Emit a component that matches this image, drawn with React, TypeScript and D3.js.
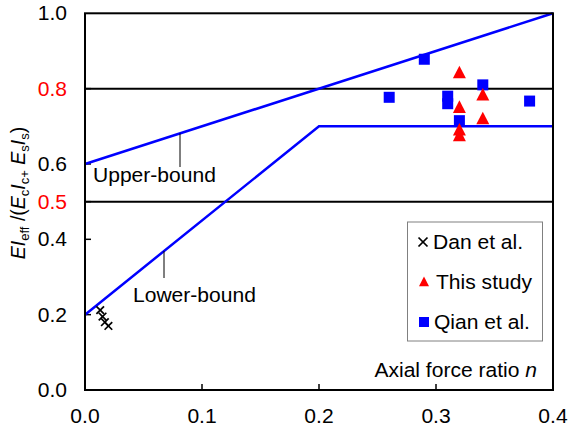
import React from "react";
import * as d3 from "d3";

// Dan et al.
const danN = [0.013, 0.015, 0.017, 0.02];
const danR = [0.212, 0.195, 0.18, 0.17];
// This study
const studyN = [0.32, 0.34, 0.32, 0.34, 0.32, 0.32];
const studyR = [0.842, 0.783, 0.75, 0.72, 0.69, 0.675];
// Qian et al.
const qianN = [0.29, 0.26, 0.31, 0.31, 0.32, 0.34, 0.38];
const qianR = [0.878, 0.777, 0.78, 0.76, 0.715, 0.81, 0.767];

const upperN = [0, 0.4];
const upperR = [0.6, 1.0];
const lowerN = [0, 0.2, 0.4];
const lowerR = [0.2, 0.7, 0.7];

const xTicks = [0, 0.1, 0.2, 0.3, 0.4];
const yTicks = [0, 0.2, 0.4, 0.5, 0.6, 0.8, 1.0];
const redTicks = [0.5, 0.8];
const refLines = [0.5, 0.8];

const W = 569;
const H = 430;
const FONT = "'Liberation Sans', Arial, sans-serif";
const FS = 19.5;
const SX = 1.08;

const x = d3.scaleLinear().domain([0, 0.4]).range([85, 553]);
const y = d3.scaleLinear().domain([0, 1]).range([390, 13.3]);

const lineGen = d3
  .line<[number, number]>()
  .x((d) => x(d[0]))
  .y((d) => y(d[1]));

const T = ({
  px,
  py,
  anchor = "start",
  fill = "#000",
  children,
}: {
  px: number;
  py: number;
  anchor?: string;
  fill?: string;
  children: React.ReactNode;
}) => (
  <g transform={`translate(${px},${py}) scale(${SX},1)`}>
    <text x={0} y={0} textAnchor={anchor} fill={fill} fontSize={FS} fontFamily={FONT}>
      {children}
    </text>
  </g>
);

const tri = (cx: number, cy: number, s: number) =>
  `M${cx},${cy - s * 0.55} L${cx + s / 2},${cy + s * 0.42} L${cx - s / 2},${cy + s * 0.42} Z`;

const Cross = ({ cx, cy, s }: { cx: number; cy: number; s: number }) => (
  <g stroke="#000" strokeWidth={1.7}>
    <line x1={cx - s} y1={cy - s} x2={cx + s} y2={cy + s} />
    <line x1={cx - s} y1={cy + s} x2={cx + s} y2={cy - s} />
  </g>
);

export default function App() {
  const upper = upperN.map((n, i) => [n, upperR[i]] as [number, number]);
  const lower = lowerN.map((n, i) => [n, lowerR[i]] as [number, number]);
  const x0 = x(0);
  const x1 = x(0.4);
  const y0 = y(0);
  const y1 = y(1);

  return (
    <svg width={W} height={H} style={{ position: "absolute", left: 0, top: 0 }}>
      <rect width={W} height={H} fill="#fff" />

      {/* reference lines */}
      {refLines.map((r) => (
        <line key={r} x1={x0} x2={x1} y1={y(r)} y2={y(r)} stroke="#000" strokeWidth={2} />
      ))}

      {/* ticks, inward */}
      {xTicks.slice(1, -1).map((t) => (
        <line key={t} x1={x(t)} x2={x(t)} y1={y0} y2={y0 - 6} stroke="#000" strokeWidth={1.5} />
      ))}
      {yTicks.slice(1, -1).map((t) => (
        <line key={t} x1={x0} x2={x0 + 6} y1={y(t)} y2={y(t)} stroke="#000" strokeWidth={1.5} />
      ))}

      {/* bounds */}
      <path d={lineGen(upper) ?? ""} fill="none" stroke="#0000ff" strokeWidth={2.5} />
      <path d={lineGen(lower) ?? ""} fill="none" stroke="#0000ff" strokeWidth={2.5} />

      {/* leader lines */}
      <line x1={180} x2={180} y1={y(0.6 + (180 - 85) / 1170)} y2={167} stroke="#000" strokeWidth={1} />
      <line x1={164} x2={164} y1={y(0.2 + ((164 - 85) / 1170) * 2.5)} y2={278} stroke="#000" strokeWidth={1} />
      <T px={93} py={181.5}>Upper-bound</T>
      <T px={133} py={302}>Lower-bound</T>

      {/* data */}
      {danN.map((n, i) => (
        <Cross key={"d" + i} cx={x(n)} cy={y(danR[i])} s={3.8} />
      ))}
      {qianN.map((n, i) => (
        <rect key={"q" + i} x={x(n) - 5.5} y={y(qianR[i]) - 5.5} width={11} height={11} fill="#0000ff" />
      ))}
      {studyN.map((n, i) => (
        <path key={"s" + i} d={tri(x(n), y(studyR[i]), 13)} fill="#ff0000" />
      ))}

      {/* frame */}
      <rect x={x0} y={y1} width={x1 - x0} height={y0 - y1} fill="none" stroke="#000" strokeWidth={2} />

      {/* legend */}
      <rect x={407.5} y={222} width={135} height={119} fill="#fff" stroke="#808080" strokeWidth={1} />
      <Cross cx={423} cy={242} s={4.5} />
      <T px={433} py={249}>Dan et al.</T>
      <path d={tri(424, 282, 10)} fill="#ff0000" />
      <T px={436} py={289}>This study</T>
      <rect x={419} y={317} width={10} height={10} fill="#0000ff" />
      <T px={434} py={329}>Qian et al.</T>

      <T px={537} py={377} anchor="end">
        Axial force ratio <tspan fontStyle="italic">n</tspan>
      </T>

      {/* tick labels */}
      {xTicks.map((t) => (
        <T key={t} px={x(t)} py={423} anchor="middle">
          {d3.format(".1f")(t)}
        </T>
      ))}
      {yTicks.map((t) => (
        <T key={t} px={67} py={y(t) + 7} anchor="end" fill={redTicks.includes(t) ? "#ff0000" : "#000"}>
          {d3.format(".1f")(t)}
        </T>
      ))}

      {/* y axis title */}
      <g transform="translate(25,193) rotate(-90)">
        <text x={0} y={0} textAnchor="middle" fontSize={FS} fontFamily={FONT}>
          <tspan fontStyle="italic">EI</tspan>
          <tspan fontSize={13} dy={4}>eff</tspan>
          <tspan dy={-4}> /(</tspan>
          <tspan fontStyle="italic">E</tspan>
          <tspan fontSize={13} dy={4}>c</tspan>
          <tspan fontStyle="italic" dy={-4}>I</tspan>
          <tspan fontSize={13} dy={4}>c+</tspan>
          <tspan fontStyle="italic" dy={-4}> E</tspan>
          <tspan fontSize={13} dy={4}>s</tspan>
          <tspan fontStyle="italic" dy={-4}>I</tspan>
          <tspan fontSize={13} dy={4}>s</tspan>
          <tspan dy={-4}>)</tspan>
        </text>
      </g>
    </svg>
  );
}
